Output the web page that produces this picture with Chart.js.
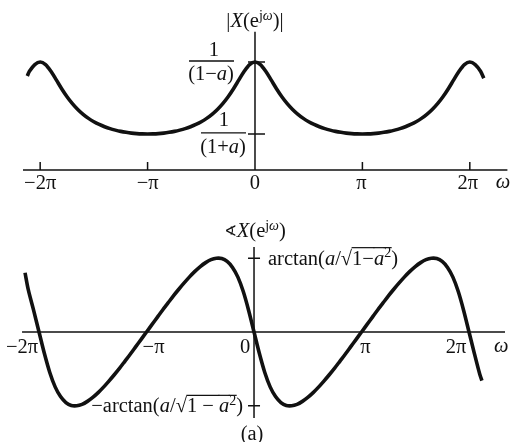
<!DOCTYPE html>
<html><head><meta charset="utf-8">
<script src="https://cdn.jsdelivr.net/npm/chart.js@4"></script>
<style>
html,body{margin:0;padding:0;background:#fff;}
#wrap{position:relative;width:516px;height:442px;overflow:hidden;}
canvas{position:absolute;left:0;}
</style>
</head><body>
<div id="wrap">
<canvas id="cTop" width="516" height="200" style="top:0"></canvas>
<canvas id="cBot" width="516" height="242" style="top:200px"></canvas>
</div>
<script>
// ---- data (ω in multiples of π) ----
const tickValues = [-2, -1, 0, 1, 2];
const tickLabels = ['−2π', '−π', '0', 'π', '2π'];

const magOmega = [-2.12,
 -2.1,-2.05,-2,-1.95,-1.9,-1.85,-1.8,-1.75,-1.7,-1.65,-1.6,-1.55,-1.5,-1.45,-1.4,-1.35,-1.3,-1.25,-1.2,-1.15,-1.1,-1.05,
 -1,-0.95,-0.9,-0.85,-0.8,-0.75,-0.7,-0.65,-0.6,-0.55,-0.5,-0.45,-0.4,-0.35,-0.3,-0.25,-0.2,-0.15,-0.1,-0.05,
 0,0.05,0.1,0.15,0.2,0.25,0.3,0.35,0.4,0.45,0.5,0.55,0.6,0.65,0.7,0.75,0.8,0.85,0.9,0.95,
 1,1.05,1.1,1.15,1.2,1.25,1.3,1.35,1.4,1.45,1.5,1.55,1.6,1.65,1.7,1.75,1.8,1.85,1.9,1.95,2,2.05,2.1,
 2.13];
const magValues = [1.74,
 1.829,1.953,2.000,1.953,1.829,1.669,1.506,1.357,1.229,1.121,1.031,0.956,0.894,0.843,0.801,0.766,0.738,0.715,0.697,0.683,0.674,0.669,
 0.667,0.669,0.674,0.683,0.697,0.715,0.738,0.766,0.801,0.843,0.894,0.956,1.031,1.121,1.229,1.357,1.506,1.669,1.829,1.953,
 2.000,1.953,1.829,1.669,1.506,1.357,1.229,1.121,1.031,0.956,0.894,0.843,0.801,0.766,0.738,0.715,0.697,0.683,0.674,0.669,
 0.667,0.669,0.674,0.683,0.697,0.715,0.738,0.766,0.801,0.843,0.894,0.956,1.031,1.121,1.229,1.357,1.506,1.669,1.829,1.953,2.000,1.953,1.829,
 1.70];

const phaseOmega = [-2.13,
 -2.1,-2.05,-2,-1.95,-1.9,-1.85,-1.8,-1.75,-1.7,-1.65,-1.6,-1.55,-1.5,-1.45,-1.4,-1.35,-1.3,-1.25,-1.2,-1.15,-1.1,-1.05,
 -1,-0.95,-0.9,-0.85,-0.8,-0.75,-0.7,-0.65,-0.6,-0.55,-0.5,-0.45,-0.4,-0.35,-0.3,-0.25,-0.2,-0.15,-0.1,-0.05,
 0,0.05,0.1,0.15,0.2,0.25,0.3,0.35,0.4,0.45,0.5,0.55,0.6,0.65,0.7,0.75,0.8,0.85,0.9,0.95,
 1,1.05,1.1,1.15,1.2,1.25,1.3,1.35,1.4,1.45,1.5,1.55,1.6,1.65,1.7,1.75,1.8,1.85,1.9,1.95,2,2.05,2.1,
 2.12];
const phaseValues = [0.42,
 0.30,0.153,0,-0.153,-0.287,-0.389,-0.458,-0.500,-0.521,-0.523,-0.513,-0.492,-0.464,-0.430,-0.391,-0.348,-0.303,-0.256,-0.206,-0.156,-0.104,-0.052,
 0,0.052,0.104,0.156,0.206,0.256,0.303,0.348,0.391,0.430,0.464,0.492,0.513,0.523,0.521,0.500,0.458,0.389,0.287,0.153,
 0,-0.153,-0.287,-0.389,-0.458,-0.500,-0.521,-0.523,-0.513,-0.492,-0.464,-0.430,-0.391,-0.348,-0.303,-0.256,-0.206,-0.156,-0.104,-0.052,
 0,0.052,0.104,0.156,0.206,0.256,0.303,0.348,0.391,0.430,0.464,0.492,0.513,0.523,0.521,0.500,0.458,0.389,0.287,0.153,0,-0.153,-0.30,
 -0.345];

const magMarks = [2.0, 0.667];        // 1/(1−a), 1/(1+a)
const phaseMarks = [0.5236, -0.5236]; // ±arctan(a/√(1−a²))

// ---- drawing helpers ----
const INK = '#111';
const FAM = '"Liberation Serif","Times New Roman",serif';
const SIZE = 20.5, SUP = 14;
function setFont(ctx, s) {
  ctx.font = (s.i ? 'italic ' : '') + (s.sup ? SUP : (s.size || SIZE)) + 'px ' + (s.fam || FAM);
}
function drawRich(ctx, segs, x, y, align) {
  let w = 0; const ws = [];
  segs.forEach(s => { setFont(ctx, s); const m = ctx.measureText(s.t).width; ws.push(m); w += m; });
  let cx = align === 'center' ? x - w / 2 : align === 'right' ? x - w : x;
  ctx.save();
  ctx.textBaseline = 'middle'; ctx.textAlign = 'left';
  ctx.fillStyle = INK; ctx.strokeStyle = INK;
  segs.forEach((s, k) => {
    setFont(ctx, s);
    ctx.fillText(s.t, cx, y - (s.sup ? 6 : 0));
    if (s.ov) {
      ctx.lineWidth = 1.2;
      ctx.beginPath(); ctx.moveTo(cx - 0.5, y - 11.5); ctx.lineTo(cx + ws[k] + 0.5, y - 11.5); ctx.stroke();
    }
    cx += ws[k];
  });
  ctx.restore();
  return w;
}
function pts(xs, ys) { return xs.map((v, k) => ({ x: v, y: ys[k] })); }

const baseOpts = (xr, yr) => ({
  responsive: false, animation: false, events: [],
  layout: { padding: 0 },
  plugins: { legend: { display: false }, tooltip: { enabled: false } },
  scales: {
    x: { type: 'linear', min: xr[0], max: xr[1], display: false },
    y: { type: 'linear', min: yr[0], max: yr[1], display: false }
  }
});
const lineDs = (data) => ({
  data, borderColor: INK, borderWidth: 3.6, pointRadius: 0,
  tension: 0.3, fill: false, clip: false, borderCapStyle: 'butt'
});

// ---- top: magnitude ----
const topAxes = {
  id: 'topAxes',
  beforeDatasetsDraw(chart) {
    const { ctx, scales: { x, y } } = chart;
    const y0 = y.getPixelForValue(0), x0 = x.getPixelForValue(0);
    ctx.save(); ctx.strokeStyle = INK; ctx.lineWidth = 1.5;
    ctx.beginPath();
    ctx.moveTo(x.getPixelForValue(-2.16), y0); ctx.lineTo(x.getPixelForValue(2.35), y0);
    ctx.moveTo(x0, y0); ctx.lineTo(x0, y.getPixelForValue(2.56));
    tickValues.forEach(v => { if (v !== 0) { const p = x.getPixelForValue(v); ctx.moveTo(p, y0); ctx.lineTo(p, y0 - 8); } });
    magMarks.forEach(v => { const p = y.getPixelForValue(v); ctx.moveTo(x0 - 7, p); ctx.lineTo(x0 + 10, p); });
    ctx.stroke();
    // fraction bars
    ctx.lineWidth = 1.3; ctx.beginPath();
    const p1 = y.getPixelForValue(magMarks[0]), p2 = y.getPixelForValue(magMarks[1]);
    ctx.moveTo(x0 - 66, p1 - 1); ctx.lineTo(x0 - 21, p1 - 1);
    ctx.moveTo(x0 - 54, p2 - 1); ctx.lineTo(x0 - 9, p2 - 1);
    ctx.stroke();
    ctx.restore();
  },
  afterDatasetsDraw(chart) {
    const { ctx, scales: { x, y } } = chart;
    const y0 = y.getPixelForValue(0), x0 = x.getPixelForValue(0);
    const dx = [0, 0, 0, -1, -2];
    tickValues.forEach((v, k) => drawRich(ctx, [{ t: tickLabels[k] }], x.getPixelForValue(v) + dx[k], y0 + 14, 'center'));
    drawRich(ctx, [{ t: 'ω', i: true }], x.getPixelForValue(2.31), y0 + 13, 'center');
    drawRich(ctx, [{ t: '|' }, { t: 'X', i: true }, { t: '(e' }, { t: 'j', sup: true }, { t: 'ω', sup: true, i: true }, { t: ')|' }], x0, 22, 'center');
    const p1 = y.getPixelForValue(magMarks[0]), p2 = y.getPixelForValue(magMarks[1]);
    drawRich(ctx, [{ t: '1' }], x0 - 41, p1 - 11, 'center');
    drawRich(ctx, [{ t: '(1−' }, { t: 'a', i: true }, { t: ')' }], x0 - 44, p1 + 13, 'center');
    drawRich(ctx, [{ t: '1' }], x0 - 31, p2 - 13, 'center');
    drawRich(ctx, [{ t: '(1+' }, { t: 'a', i: true }, { t: ')' }], x0 - 32, p2 + 14, 'center');
  }
};
new Chart(document.getElementById('cTop'), {
  type: 'line',
  data: { datasets: [lineDs(pts(magOmega, magValues))] },
  options: baseOpts([-2.374, 2.430], [-0.556, 3.148]),
  plugins: [topAxes]
});

// ---- bottom: phase ----
const botAxes = {
  id: 'botAxes',
  beforeDatasetsDraw(chart) {
    const { ctx, scales: { x, y } } = chart;
    const y0 = y.getPixelForValue(0), x0 = x.getPixelForValue(0);
    ctx.save(); ctx.strokeStyle = INK; ctx.lineWidth = 1.5;
    ctx.beginPath();
    ctx.moveTo(x.getPixelForValue(-2.158), y0); ctx.lineTo(x.getPixelForValue(2.335), y0);
    ctx.moveTo(x0, y.getPixelForValue(0.603)); ctx.lineTo(x0, y.getPixelForValue(-0.61));
    phaseMarks.forEach(v => { const p = y.getPixelForValue(v); ctx.moveTo(x0 - 6, p); ctx.lineTo(x0 + 6, p); });
    ctx.stroke(); ctx.restore();
  },
  afterDatasetsDraw(chart) {
    const { ctx, scales: { x, y } } = chart;
    const y0 = y.getPixelForValue(0), x0 = x.getPixelForValue(0);
    const dx = [-17, 7, -9, 4, -13];
    tickValues.forEach((v, k) => drawRich(ctx, [{ t: tickLabels[k] }], x.getPixelForValue(v) + dx[k], y0 + 16, 'center'));
    drawRich(ctx, [{ t: 'ω', i: true }], x.getPixelForValue(2.3), y0 + 15, 'center');
    drawRich(ctx, [{ t: '∢', fam: '"DejaVu Sans",sans-serif', size: 15 }, { t: 'X', i: true }, { t: '(e' }, { t: 'j', sup: true }, { t: 'ω', sup: true, i: true }, { t: ')' }], x0 + 1, 32, 'center');
    const pt = y.getPixelForValue(phaseMarks[0]), pb = y.getPixelForValue(phaseMarks[1]);
    drawRich(ctx, [{ t: 'arctan(' }, { t: 'a', i: true }, { t: '/√' }, { t: '1−', ov: true }, { t: 'a', i: true, ov: true }, { t: '2', sup: true, ov: true }, { t: ')' }], x0 + 14, pt + 1, 'left');
    drawRich(ctx, [{ t: '−arctan(' }, { t: 'a', i: true }, { t: '/√' }, { t: '1 − ', ov: true }, { t: 'a', i: true, ov: true }, { t: '2', sup: true, ov: true }, { t: ')' }], x0 - 11, pb + 1, 'right');
    drawRich(ctx, [{ t: '(a)' }], x0 - 2, 235, 'center');
  }
};
new Chart(document.getElementById('cBot'), {
  type: 'line',
  data: { datasets: [lineDs(pts(phaseOmega, phaseValues))] },
  options: baseOpts([-2.363, 2.437], [-0.780, 0.936]),
  plugins: [botAxes]
});
</script>
</body></html>
